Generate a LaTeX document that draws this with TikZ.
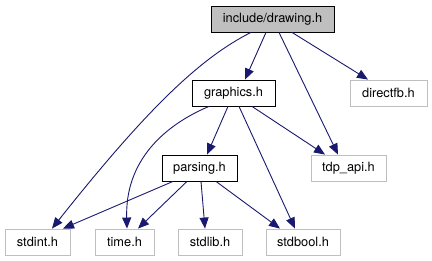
\documentclass[tikz,border=0pt]{standalone}
\usepackage{fontspec}
\setmainfont{TeX Gyre Heros}
\usetikzlibrary{arrows.meta}
\definecolor{edgeblue}{HTML}{191970}
\definecolor{boxgray}{HTML}{BFBFBF}
\definecolor{fillgray}{HTML}{BFBFBF}
\begin{document}
\begin{tikzpicture}[x=1pt,y=-1pt,
  file/.style={draw=black,line width=0.85pt,fill=white,minimum height=26pt,inner sep=0pt,
    font=\fontsize{12.8}{15}\selectfont},
  extfile/.style={file,draw=boxgray},
  mainfile/.style={file,fill=fillgray},
  dep/.style={draw=edgeblue,line width=0.9pt,
    -{Triangle[length=11pt,width=9pt]}}]
\useasboundingbox (0,0) rectangle (432,261);

% header files
\node[mainfile,minimum width=123pt] (drawing) at (272.5,19) {include/drawing.h};
\node[file,minimum width=83pt] (graphics) at (233.5,93) {graphics.h};
\node[extfile,minimum width=77pt] (directfb) at (388.5,93) {directfb.h};
\node[file,minimum width=75pt] (parsing) at (199.5,168) {parsing.h};
\node[extfile,minimum width=75pt] (tdpapi) at (348.5,168) {tdp\_api.h};
\node[extfile,minimum width=65pt] (stdint) at (37.5,242) {stdint.h};
\node[extfile,minimum width=59pt] (time) at (124.5,242) {time.h};
\node[extfile,minimum width=64pt] (stdlib) at (210,242) {stdlib.h};
\node[extfile,minimum width=74pt] (stdbool) at (303,242) {stdbool.h};

% include edges from drawing.h
\draw[dep] ([xshift=-21.5pt]drawing.south) .. controls (200,58) and (146,110) .. ([xshift=14.5pt]stdint.north);
\draw[dep] ([xshift=-6.5pt]drawing.south) -- ([xshift=11.5pt]graphics.north);
\draw[dep] ([xshift=6.5pt]drawing.south) -- ([xshift=-10.5pt]tdpapi.north);
\draw[dep] ([xshift=19.5pt]drawing.south) -- ([xshift=-20.5pt]directfb.north);

% include edges from graphics.h
\draw[dep] ([xshift=-24.5pt]graphics.south) .. controls (165,125) and (125,160) .. ([xshift=2.5pt]time.north);
\draw[dep] ([xshift=-5.5pt]graphics.south) -- ([xshift=7.5pt]parsing.north);
\draw[dep] ([xshift=5.5pt]graphics.south) -- ([xshift=-8pt]stdbool.north);
\draw[dep] ([xshift=18.5pt]graphics.south) -- ([xshift=-23.5pt]tdpapi.north);

% include edges from parsing.h
\draw[dep] ([xshift=-26.5pt]parsing.south) -- ([xshift=25.5pt]stdint.north);
\draw[dep] ([xshift=-12.5pt]parsing.south) -- ([xshift=13.5pt]time.north);
\draw[dep] ([xshift=1.5pt]parsing.south) -- ([xshift=-5pt]stdlib.north);
\draw[dep] ([xshift=16.5pt]parsing.south) -- ([xshift=-23pt]stdbool.north);
\end{tikzpicture}
\end{document}
